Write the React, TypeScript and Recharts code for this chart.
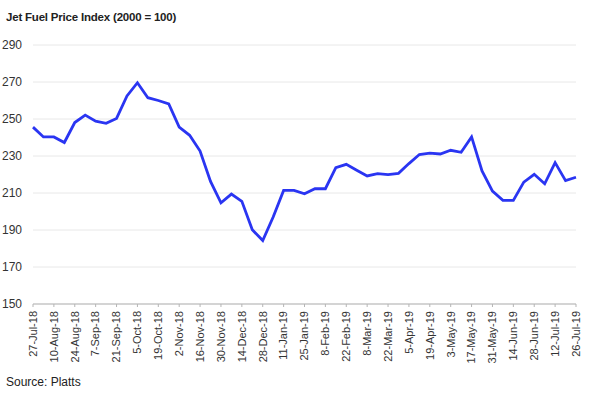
import React from "react";
import { LineChart, Line, XAxis, YAxis, CartesianGrid } from "recharts";

const weeks = [
  "27-Jul-18", "3-Aug-18", "10-Aug-18", "17-Aug-18", "24-Aug-18", "31-Aug-18",
  "7-Sep-18", "14-Sep-18", "21-Sep-18", "28-Sep-18", "5-Oct-18", "12-Oct-18",
  "19-Oct-18", "26-Oct-18", "2-Nov-18", "9-Nov-18", "16-Nov-18", "23-Nov-18",
  "30-Nov-18", "7-Dec-18", "14-Dec-18", "21-Dec-18", "28-Dec-18", "4-Jan-19",
  "11-Jan-19", "18-Jan-19", "25-Jan-19", "1-Feb-19", "8-Feb-19", "15-Feb-19",
  "22-Feb-19", "1-Mar-19", "8-Mar-19", "15-Mar-19", "22-Mar-19", "29-Mar-19",
  "5-Apr-19", "12-Apr-19", "19-Apr-19", "26-Apr-19", "3-May-19", "10-May-19",
  "17-May-19", "24-May-19", "31-May-19", "7-Jun-19", "14-Jun-19", "21-Jun-19",
  "28-Jun-19", "5-Jul-19", "12-Jul-19", "19-Jul-19", "26-Jul-19",
];

const jetFuelIndex = [
  245.6, 240.3, 240.3, 237.3, 248.1, 252.1, 248.8, 247.7, 250.3, 262.5,
  269.6, 261.5, 260.0, 258.2, 245.6, 241.2, 232.7, 216.3, 204.7, 209.4,
  205.5, 190.1, 184.3, 197.0, 211.4, 211.4, 209.6, 212.3, 212.3, 223.7,
  225.5, 222.3, 219.2, 220.5, 219.9, 220.6, 225.9, 230.8, 231.5, 231.1,
  233.1, 232.0, 240.3, 221.9, 211.0, 206.0, 206.0, 215.9, 220.1, 215.0,
  226.4, 216.7, 218.5,
];

const yTicks = [150, 170, 190, 210, 230, 250, 270, 290];

const data = weeks.map((week, i) => ({ week, value: jetFuelIndex[i] }));

const FONT = "'Liberation Sans', Arial, sans-serif";

// eslint-disable-next-line @typescript-eslint/no-explicit-any
const DateTick = ({ x, y, payload }: any) => (
  <text
    x={x}
    y={y}
    dy="0.35em"
    textAnchor="end"
    transform={`rotate(-90, ${x}, ${y})`}
    fontSize={11}
    fill="#333"
    fontFamily={FONT}
  >
    {payload.value}
  </text>
);

export default function App() {
  return (
    <div style={{ position: "absolute", left: 0, top: 0, width: 600, height: 400, background: "#fff", fontFamily: FONT }}>
      <div style={{ position: "absolute", left: 6, top: 11, fontSize: 11.5, fontWeight: "bold", color: "#222", letterSpacing: -0.2 }}>
        Jet Fuel Price Index (2000 = 100)
      </div>
      <LineChart width={600} height={400} data={data} margin={{ top: 45, right: 24, left: 0, bottom: 30 }}>
        <CartesianGrid vertical={false} stroke="#e8e8e8" />
        <XAxis
          dataKey="week"
          interval={1}
          height={66}
          tick={<DateTick />}
          tickSize={3}
          tickMargin={4}
          stroke="#b5b5b5"
          tickLine={{ stroke: "#b5b5b5" }}
        />
        <YAxis
          width={33}
          domain={[150, 290]}
          ticks={yTicks}
          axisLine={false}
          tickLine={false}
          tickMargin={5}
          tick={{ fontSize: 12, fill: "#333", fontFamily: FONT }}
        />
        <Line
          type="linear"
          dataKey="value"
          stroke="#2a35f2"
          strokeWidth={2.8}
          dot={false}
          isAnimationActive={false}
        />
      </LineChart>
      <div style={{ position: "absolute", left: 6, top: 375, fontSize: 12, color: "#222" }}>
        Source: Platts
      </div>
    </div>
  );
}
